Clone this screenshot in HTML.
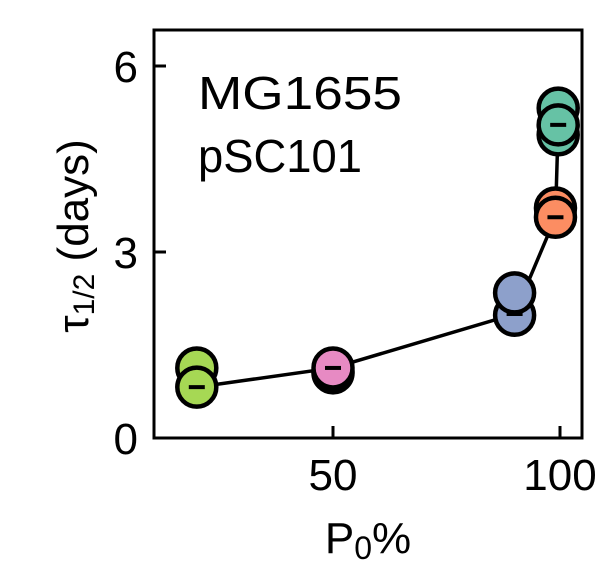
<!DOCTYPE html>
<html><head><meta charset="utf-8"><style>
html,body{margin:0;padding:0;background:#fff;}
svg text{font-family:"Liberation Sans",Arial,sans-serif;fill:#000;}
</style></head><body>
<svg id="chart" width="612" height="570" viewBox="0 0 612 570" xmlns="http://www.w3.org/2000/svg">
<g id="marks"></g>
<rect x="154" y="30" width="428" height="408" fill="none" stroke="#000" stroke-width="3"/>
<g id="axes"></g>
<text x="198" y="109" font-size="46" textLength="204" lengthAdjust="spacingAndGlyphs">MG1655</text>
<text x="198" y="172" font-size="46" textLength="164" lengthAdjust="spacingAndGlyphs">pSC101</text>
<text x="368" y="553" font-size="44" text-anchor="middle">P<tspan font-size="32" dy="6">0</tspan><tspan dy="-6">%</tspan></text>
<text transform="translate(88,236) rotate(-90)" font-size="44" text-anchor="middle">τ<tspan font-size="30" dy="6">1/2</tspan><tspan dy="-6"> (days)</tspan></text>
</svg>
<script>
const xValues = [20, 50, 90, 99, 99.6];
const colors = ['#a6d854', '#e78ac3', '#8da0cb', '#fc8d62', '#66c2a5'];
const replicateValues = [[1.13, 0.82], [1.05, 1.08, 1.13], [1.98, 2.34], [3.71, 3.56], [5.32, 4.89, 5.05]];
const meanValues = [0.82, 1.13, 2.0, 3.56, 5.05];
const xTicks = [50, 100];
const yTicks = [0, 3, 6];

const NS = 'http://www.w3.org/2000/svg';
function xs(v){ return 333 + (v - 50) * 4.54; }
function ys(v){ return 438 - v * 62; }
const marks = document.getElementById('marks');
const axes = document.getElementById('axes');
function mk(tag, attrs, parent){ const e = document.createElementNS(NS, tag); for (const k in attrs) e.setAttribute(k, attrs[k]); parent.appendChild(e); return e; }

const line = mk('polyline', {points: xValues.map((x,i)=>xs(x)+','+ys(meanValues[i])).join(' '), fill:'none', stroke:'#000', 'stroke-width':3.5}, marks);



xValues.forEach((x, i) => {
  replicateValues[i].forEach((v, j) => {
    const c = mk('circle', {cx: xs(x), cy: ys(v), r: 19.5, fill: colors[i], stroke:'#000', 'stroke-width':4.5}, marks);
    
    
  });
  const d = mk('line', {x1: xs(x)-8, x2: xs(x)+8, y1: ys(meanValues[i]), y2: ys(meanValues[i]), stroke:'#000', 'stroke-width':4}, marks);
  
  
});

xTicks.forEach(t => {
  const l = mk('line', {x1: xs(t), x2: xs(t), y1: 438, y2: 426, stroke:'#000', 'stroke-width':3}, axes);
  
  
  const tx = mk('text', {x: xs(t), y: 490, 'font-size': 44, 'text-anchor':'middle'}, axes);
  tx.textContent = t;
  
  
});
yTicks.forEach(t => {
  const l = mk('line', {x1: 154, x2: 166, y1: ys(t), y2: ys(t), stroke:'#000', 'stroke-width':3}, axes);
  
  
  const tx = mk('text', {x: 138, y: ys(t)+16, 'font-size': 44, 'text-anchor':'end'}, axes);
  tx.textContent = t;
  
  
});
</script>
</body></html>
